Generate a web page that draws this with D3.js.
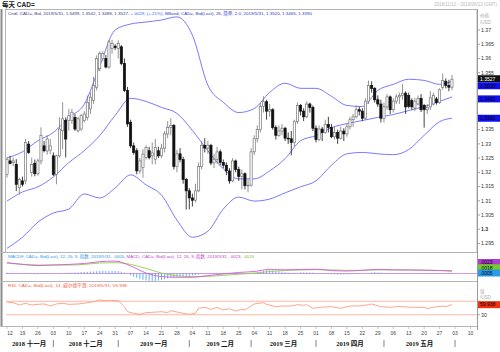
<!DOCTYPE html>
<html>
<head>
<meta charset="utf-8">
<script src="https://cdn.jsdelivr.net/npm/d3@7"></script>
<style>
  body { margin: 0; background: #fff; }
  svg { display: block; }
  text { font-family: "Liberation Sans", "Noto Sans CJK SC", sans-serif; }
</style>
</head>
<body>
<svg id="chart" width="500" height="352"></svg>
<script>
// daily candles, 2018-11-12 .. 2019-05-31 (weekdays)
var openP = [1.3193,1.3240,1.3234,1.3228,1.3146,1.3170,1.3170,1.3299,1.3200,1.3232,
  1.3195,1.3240,1.3293,1.3275,1.3278,1.3258,1.3193,1.3258,1.3346,1.3382,
  1.3382,1.3382,1.3393,1.3346,1.3352,1.3382,1.3393,1.3423,1.3452,1.3499,
  1.3564,1.3600,1.3600,1.3570,1.3635,1.3643,1.3635,1.3641,1.3582,1.3488,
  1.3376,1.3293,1.3276,1.3205,1.3217,1.3252,1.3276,1.3258,1.3246,1.3276,
  1.3258,1.3285,1.3335,1.3358,1.3365,1.3220,1.3265,1.3245,1.3175,1.3135,
  1.3110,1.3102,1.3135,1.3220,1.3295,1.3285,1.3295,1.3233,1.3246,1.3272,
  1.3235,1.3225,1.3205,1.3170,1.3240,1.3210,1.3185,1.3195,1.3153,1.3155,
  1.3272,1.3318,1.3350,1.3432,1.3448,1.3415,1.3420,1.3358,1.3330,1.3345,
  1.3355,1.3320,1.3318,1.3305,1.3378,1.3435,1.3415,1.3395,1.3440,1.3428,
  1.3355,1.3315,1.3352,1.3340,1.3368,1.3358,1.3325,1.3340,1.3320,1.3345,
  1.3335,1.3360,1.3385,1.3395,1.3420,1.3415,1.3390,1.3450,1.3505,1.3495,
  1.3455,1.3440,1.3390,1.3430,1.3465,1.3420,1.3450,1.3465,1.3470,1.3478,
  1.3470,1.3452,1.3426,1.3440,1.3460,1.3435,1.3420,1.3430,1.3440,1.3458,
  1.3445,1.3499,1.3520,1.3505,1.3499];
var highP = [1.3252,1.3258,1.3252,1.3246,1.3181,1.3185,1.3317,1.3310,1.3252,1.3245,
  1.3248,1.3358,1.3310,1.3330,1.3317,1.3270,1.3262,1.3393,1.3446,1.3393,
  1.3423,1.3423,1.3405,1.3395,1.3405,1.3415,1.3470,1.3482,1.3535,1.3611,
  1.3625,1.3625,1.3612,1.3665,1.3665,1.3650,1.3664,1.3647,1.3600,1.3500,
  1.3385,1.3305,1.3285,1.3250,1.3281,1.3295,1.3290,1.3305,1.3317,1.3290,
  1.3300,1.3345,1.3380,1.3390,1.3370,1.3278,1.3285,1.3255,1.3180,1.3145,
  1.3125,1.3160,1.3235,1.3310,1.3320,1.3310,1.3300,1.3265,1.3290,1.3280,
  1.3245,1.3235,1.3215,1.3250,1.3245,1.3220,1.3210,1.3200,1.3175,1.3285,
  1.3330,1.3365,1.3445,1.3467,1.3455,1.3440,1.3425,1.3365,1.3365,1.3370,
  1.3360,1.3340,1.3345,1.3385,1.3445,1.3440,1.3425,1.3450,1.3445,1.3435,
  1.3365,1.3365,1.3360,1.3385,1.3395,1.3370,1.3360,1.3350,1.3360,1.3355,
  1.3370,1.3395,1.3405,1.3435,1.3430,1.3425,1.3460,1.3522,1.3520,1.3500,
  1.3470,1.3455,1.3445,1.3475,1.3470,1.3460,1.3475,1.3480,1.3510,1.3485,
  1.3480,1.3460,1.3462,1.3470,1.3475,1.3440,1.3440,1.3485,1.3480,1.3465,
  1.3495,1.3548,1.3530,1.3525,1.3542];
var lowP = [1.3181,1.3228,1.3222,1.3134,1.3122,1.3150,1.3158,1.3265,1.3185,1.3186,
  1.3188,1.3228,1.3270,1.3262,1.3264,1.3187,1.3158,1.3252,1.3281,1.3252,
  1.3346,1.3370,1.3346,1.3340,1.3346,1.3375,1.3382,1.3405,1.3441,1.3488,
  1.3555,1.3590,1.3565,1.3564,1.3617,1.3630,1.3600,1.3576,1.3482,1.3360,
  1.3285,1.3262,1.3193,1.3195,1.3181,1.3245,1.3245,1.3228,1.3228,1.3250,
  1.3250,1.3270,1.3320,1.3330,1.3210,1.3200,1.3235,1.3160,1.3069,1.3070,
  1.3080,1.3095,1.3130,1.3210,1.3270,1.3265,1.3225,1.3215,1.3230,1.3225,
  1.3215,1.3190,1.3160,1.3165,1.3200,1.3170,1.3140,1.3140,1.3130,1.3150,
  1.3260,1.3305,1.3340,1.3410,1.3385,1.3395,1.3350,1.3315,1.3325,1.3330,
  1.3310,1.3300,1.3260,1.3290,1.3370,1.3400,1.3380,1.3390,1.3410,1.3345,
  1.3305,1.3310,1.3310,1.3335,1.3340,1.3320,1.3315,1.3300,1.3315,1.3310,
  1.3325,1.3350,1.3360,1.3390,1.3400,1.3380,1.3385,1.3440,1.3480,1.3445,
  1.3430,1.3375,1.3375,1.3420,1.3405,1.3410,1.3440,1.3440,1.3455,1.3405,
  1.3425,1.3420,1.3415,1.3435,1.3412,1.3357,1.3405,1.3418,1.3435,1.3438,
  1.3440,1.3490,1.3495,1.3485,1.3488];
var closeP = [1.3246,1.3231,1.3240,1.3158,1.3175,1.3158,1.3305,1.3270,1.3228,1.3195,
  1.3240,1.3329,1.3276,1.3317,1.3293,1.3193,1.3258,1.3352,1.3388,1.3317,
  1.3399,1.3411,1.3352,1.3388,1.3399,1.3405,1.3446,1.3464,1.3505,1.3600,
  1.3617,1.3617,1.3570,1.3658,1.3653,1.3638,1.3653,1.3582,1.3488,1.3370,
  1.3293,1.3270,1.3205,1.3240,1.3264,1.3287,1.3252,1.3268,1.3287,1.3258,
  1.3285,1.3335,1.3358,1.3365,1.3220,1.3265,1.3245,1.3175,1.3135,1.3110,
  1.3102,1.3135,1.3220,1.3295,1.3285,1.3295,1.3233,1.3246,1.3272,1.3235,
  1.3225,1.3205,1.3170,1.3240,1.3210,1.3185,1.3195,1.3153,1.3155,1.3272,
  1.3318,1.3350,1.3432,1.3448,1.3415,1.3420,1.3358,1.3330,1.3345,1.3355,
  1.3320,1.3318,1.3305,1.3378,1.3435,1.3415,1.3395,1.3440,1.3428,1.3355,
  1.3315,1.3352,1.3340,1.3368,1.3358,1.3325,1.3340,1.3320,1.3345,1.3335,
  1.3360,1.3385,1.3395,1.3420,1.3415,1.3390,1.3450,1.3505,1.3495,1.3455,
  1.3440,1.3390,1.3430,1.3465,1.3420,1.3450,1.3465,1.3470,1.3478,1.3430,
  1.3432,1.3430,1.3450,1.3460,1.3420,1.3420,1.3428,1.3462,1.3470,1.3445,
  1.3490,1.3523,1.3505,1.3499,1.3527];

// Bollinger band (26, 2.0)
var sampleDays = [0,5,10,15,20,25,30,35,40,45,50,55,60,65,70,75,80,85,90,95,100,105,110,115,120,125,130,135,140,144];
var bbUpper = [1.3251,1.3272,1.3311,1.3340,1.3393,1.3439,1.3573,1.3700,1.3721,1.3728,1.3735,1.3746,1.3682,1.3506,1.3446,1.3410,
  1.3424,1.3481,1.3513,1.3495,1.3495,1.3467,1.3435,1.3431,1.3488,1.3509,1.3527,1.3523,1.3509,1.3520];
var bbMiddle = [1.3099,1.3131,1.3149,1.3184,1.3234,1.3276,1.3329,1.3400,1.3460,1.3449,1.3428,1.3407,1.3347,1.3276,1.3212,1.3177,
  1.3177,1.3205,1.3248,1.3311,1.3329,1.3357,1.3371,1.3382,1.3393,1.3403,1.3417,1.3431,1.3449,1.3465];
var bbLower = [1.2933,1.2972,1.3025,1.3057,1.3071,1.3124,1.3110,1.3145,1.3191,1.3156,1.3120,1.3032,1.2972,1.2993,1.3071,1.3113,
  1.3099,1.3106,1.3128,1.3149,1.3170,1.3225,1.3265,1.3270,1.3265,1.3262,1.3280,1.3330,1.3378,1.3390];

// MACD (12, 26, 9)
var macdLine = [0.0092,0.0077,0.0067,0.0072,0.0077,0.0085,0.0100,0.0105,0.0064,0.0004,-0.0026,-0.0032,-0.0032,-0.0018,-0.0004,0.0009,
  0.0017,0.0035,0.0031,0.0034,0.0036,0.0025,0.0021,0.0027,0.0035,0.0031,0.0030,0.0028,0.0025,0.0023];
var macdSignal = [0.0087,0.0078,0.0072,0.0072,0.0072,0.0077,0.0089,0.0092,0.0077,0.0043,0.0004,-0.0019,-0.0026,-0.0024,-0.0016,-0.0006,
  0.0003,0.0017,0.0026,0.0030,0.0033,0.0030,0.0027,0.0027,0.0030,0.0030,0.0030,0.0028,0.0026,0.0018];
// histogram, in units of 0.0001
var macdHist = [5,3,2,0,-2, -2,-3,-1,-3,-4, -5,-3,-2,-2,-1, -2,0,1,3,4, 4,5,6,6,8, 8,9,10,11,13,
  14,15,14,15,15, 14,13,10,5,-2, -10,-18,-24,-30,-34, -38,-40,-40,-40,-38, -36,-32,-27,-22,-22,
  -20,-17,-15,-14,-13, -11,-9,-6,-3,-1, 2,3,4,4,4, 4,3,3,3,3, 2,1,0,-1,0,
  4,7,10,14,17, 18,17,14,12,10, 7,5,3,3,4, 6,6,6,6,5, 2,0,-2,-3,-3,
  -4,-5,-6,-6,-6, -5,-4,-3,-1,0, 0,0,3,6,7, 6,5,3,3,3, 2,2,2,2,1,
  0,0,-1,-1,-1, -1,-2,-3,-3,-2, -2,-1,2,4,5];

// RSI (14, Wilder)
var rsiDays = [0,2,4,6,8,10,12,14,16,18,20,23,25,28,30,32,33,36,38,39,41,43,45,47,50,52,53,55,57,59,61,62,64,66,68,70,72,74,76,77,79,
  80,83,84,87,89,92,94,96,97,99,101,105,108,111,114,117,118,121,124,126,128,131,135,136,138,141,142,144];
var rsiValues = [67.9,65.8,59,64,59,61,62,56,62,64,61,62,64,68.8,74,71.8,73,71.8,53.9,39,34.2,31.2,36,37.2,39,36,42,38,34.2,31.2,34.2,49,52,46,52,44,48,41,46,44,56,
  62,65.8,61,53.9,56,56,59.9,58,59.9,49,52,54,49,56,56,59.9,62,54,52,54,54,52,52,48,52,56,54,59.938];

var priceTicks = [1.37,1.365,1.36,1.355,1.35,1.345,1.34,1.335,1.33,1.325,1.32,1.315,1.31,1.305,1.3,1.295];
var hiddenTicks = [1.35, 1.345, 1.34];
var weekLabels = ["12","19","26","03","10","17","24","31","07","14","21","28","04","11","18","25",
  "04","11","18","25","01","08","15","22","29","06","13","20","27","03","10"];
var monthLabels = ["2018 十一月","2018 十二月","2019 一月","2019 二月","2019 三月","2019 四月","2019 五月"];
var monthStarts = [0,15,36,59,79,100,122,145];

var svg = d3.select("#chart");
var axisX = 477;

var x = d3.scaleLinear().domain([0, 150]).range([7, 7 + 150 * 3.09]);
var yPrice = d3.scaleLinear().domain([1.295, 1.37]).range([243.5, 30]);
var yMacd = d3.scaleLinear().domain([0, 0.01]).range([273.5, 261.7]);
var yHist = d3.scaleLinear().domain([0, 0.004]).range([273.5, 266.2]);
var yRsi = d3.scaleLinear().domain([30, 70]).range([314.7, 301.3]);

// frames
svg.append("rect").attr("x", 5.5).attr("y", 9.5).attr("width", axisX - 5.5).attr("height", 243)
  .attr("fill", "none").attr("stroke", "#b5b5b5");
svg.append("line").attr("x1", 1.5).attr("x2", 1.5).attr("y1", 9).attr("y2", 327)
  .attr("stroke", "#8c8c8c").attr("stroke-width", 2);
[252.5, 281.5, 326.5].forEach(function(v) {
  svg.append("line").attr("x1", 1).attr("x2", axisX).attr("y1", v).attr("y2", v)
    .attr("stroke", "#b5b5b5");
});
svg.append("line").attr("x1", axisX + 0.5).attr("x2", axisX + 0.5).attr("y1", 9).attr("y2", 330)
  .attr("stroke", "#9a9a9a");

svg.append("clipPath").attr("id", "clipMain").append("rect")
  .attr("x", 6).attr("y", 10).attr("width", axisX - 6).attr("height", 242);

// header
svg.append("text").attr("x", 2).attr("y", 7).attr("font-size", 6.5).attr("font-weight", "bold")
  .attr("fill", "#222").text("每天 CAD=");
svg.append("text").attr("x", 497).attr("y", 6).attr("text-anchor", "end").attr("font-size", 4.5)
  .attr("fill", "#b8b8b8").text("2018/11/12 - 2019/06/12 (GMT)");

// main legend
var leg = svg.append("text").attr("x", 8).attr("y", 15).attr("font-size", 4.4)
  .attr("textLength", 304).attr("lengthAdjust", "spacingAndGlyphs");
leg.append("tspan").attr("fill", "#3a3a8c").text("Cndl, CAD=, Bid, 2019/5/31, 1.3499, 1.3542, 1.3488, 1.3527, ");
leg.append("tspan").attr("fill", "#2f6bff").text("+.0029, (+.21%), ");
leg.append("tspan").attr("fill", "#3434d8").text("BBand, CAD=, Bid(Last), 26, 简单, 2.0, 2019/5/31, 1.3520, 1.3465, 1.3390");

// bollinger bands
var main = svg.append("g").attr("clip-path", "url(#clipMain)");
[bbUpper, bbMiddle, bbLower].forEach(function(band) {
  var line = d3.line().x(function(d, i) { return x(sampleDays[i]); }).y(function(d) { return yPrice(d); })
    .curve(d3.curveMonotoneX);
  main.append("path").attr("d", line(band)).attr("fill", "none")
    .attr("stroke", "#6a6aff").attr("stroke-width", 0.9);
});

// candles
var candles = main.selectAll("g.candle").data(closeP).enter().append("g").attr("class", "candle");
candles.append("line")
  .attr("x1", function(d, i) { return x(i); }).attr("x2", function(d, i) { return x(i); })
  .attr("y1", function(d, i) { return yPrice(highP[i]); })
  .attr("y2", function(d, i) { return yPrice(lowP[i]); })
  .attr("stroke", function(d, i) { return d >= openP[i] ? "#777" : "#111"; })
  .attr("stroke-width", 0.8);
candles.append("rect")
  .attr("x", function(d, i) { return x(i) - 1.1; })
  .attr("width", 2.2)
  .attr("y", function(d, i) { return yPrice(Math.max(d, openP[i])); })
  .attr("height", function(d, i) { return Math.max(0.8, Math.abs(yPrice(d) - yPrice(openP[i]))); })
  .attr("fill", function(d, i) { return d >= openP[i] ? "#fff" : "#111"; })
  .attr("stroke", function(d, i) { return d >= openP[i] ? "#777" : "#111"; })
  .attr("stroke-width", 0.7);

// price axis
var yAxis = svg.append("g");
priceTicks.forEach(function(t) {
  yAxis.append("line").attr("x1", axisX + 1).attr("x2", axisX + 3)
    .attr("y1", yPrice(t)).attr("y2", yPrice(t)).attr("stroke", "#666").attr("stroke-width", 0.6);
  if (hiddenTicks.indexOf(t) >= 0) return;   // covered by value boxes
  yAxis.append("text").attr("x", axisX + 4).attr("y", yPrice(t) + 1.8).attr("font-size", 5.2)
    .attr("font-weight", t === 1.3 ? "bold" : "normal")
    .attr("fill", "#333").text(d3.format("")(t));
});
yAxis.append("text").attr("x", axisX + 3).attr("y", 17).attr("font-size", 4.5).attr("fill", "#aaa").text("价格");
yAxis.append("text").attr("x", axisX + 3).attr("y", 24).attr("font-size", 4.5).attr("fill", "#aaa").text("/USD");

function valueBox(yc, color, txt, txtColor) {
  svg.append("rect").attr("x", axisX + 1).attr("y", yc - 3.5).attr("width", 22).attr("height", 7).attr("fill", color);
  svg.append("text").attr("x", axisX + 3).attr("y", yc + 1.8).attr("font-size", 5)
    .attr("fill", txtColor).text(txt);
}
valueBox(yPrice(closeP[closeP.length - 1]) - 0.5, "#111", "1.3527", "#fff");
valueBox(yPrice(bbUpper[bbUpper.length - 1]) + 4.5, "#1010ee", "1.3520", "#000");
valueBox(yPrice(bbMiddle[bbMiddle.length - 1]) + 2, "#1010ee", "1.3465", "#000");
valueBox(yPrice(bbLower[bbLower.length - 1]), "#1010ee", "1.3390", "#000");

// MACD panel
var macdG = svg.append("g");
macdG.append("line").attr("x1", 6).attr("x2", axisX).attr("y1", yMacd(0)).attr("y2", yMacd(0))
  .attr("stroke", "#c070e0").attr("stroke-width", 0.7);
macdG.selectAll("line.hist").data(macdHist).enter().append("line").attr("class", "hist")
  .attr("x1", function(d, i) { return x(i); }).attr("x2", function(d, i) { return x(i); })
  .attr("y1", yHist(0)).attr("y2", function(d) { return yHist(d / 10000); })
  .attr("stroke", "#3a9ff0").attr("stroke-width", 0.8);
var mline = d3.line().x(function(d, i) { return x(sampleDays[i]); }).y(function(d) { return yMacd(d); })
  .curve(d3.curveMonotoneX);
macdG.append("path").attr("d", mline(macdSignal)).attr("fill", "none").attr("stroke", "#8ed04a").attr("stroke-width", 0.9);
macdG.append("path").attr("d", mline(macdLine)).attr("fill", "none").attr("stroke", "#d458d8").attr("stroke-width", 0.9);

var mleg = svg.append("text").attr("x", 8).attr("y", 258).attr("font-size", 4.4)
  .attr("textLength", 246).attr("lengthAdjust", "spacingAndGlyphs");
mleg.append("tspan").attr("fill", "#2a9ae8").text("MACDF, CAD=, Bid(Last), 12, 26, 9, 指数, 2019/5/31, .0005, ");
mleg.append("tspan").attr("fill", "#c040d0").text("MACD, CAD=, Bid(Last), 12, 26, 9, 指数, 2019/5/31, .0023, ");
mleg.append("tspan").attr("fill", "#80c040").text(".0018");

valueBox(262.5, "#b43ad8", ".0023", "#000");
valueBox(267.8, "#72cc2c", ".0018", "#000");
valueBox(273, "#2a9ae8", ".0005", "#000");

// RSI panel
var rsiG = svg.append("g");
[70, 30].forEach(function(lv) {
  rsiG.append("line").attr("x1", 6).attr("x2", axisX).attr("y1", yRsi(lv)).attr("y2", yRsi(lv))
    .attr("stroke", "#ffb6a3").attr("stroke-width", 1.1);
  rsiG.append("line").attr("x1", axisX + 1).attr("x2", axisX + 3).attr("y1", yRsi(lv)).attr("y2", yRsi(lv))
    .attr("stroke", "#666").attr("stroke-width", 0.6);
  if (lv === 30) {
    rsiG.append("text").attr("x", axisX + 4).attr("y", yRsi(lv) + 1.8).attr("font-size", 5.2)
      .attr("fill", "#333").text(lv);
  }
});
var rline = d3.line().x(function(d, i) { return x(rsiDays[i]); }).y(function(d) { return yRsi(d); });
rsiG.append("path").attr("d", rline(rsiValues)).attr("fill", "none").attr("stroke", "#ff9a80").attr("stroke-width", 0.9);
svg.append("text").attr("x", 8).attr("y", 287).attr("font-size", 4.4).attr("fill", "#f06040")
  .attr("textLength", 119).attr("lengthAdjust", "spacingAndGlyphs")
  .text("RSI, CAD=, Bid(Last), 14, 威尔德平滑, 2019/5/31, 59.938");
svg.append("text").attr("x", axisX + 3).attr("y", 293).attr("font-size", 4.5).attr("fill", "#aaa").text("值");
svg.append("text").attr("x", axisX + 3).attr("y", 299).attr("font-size", 4.5).attr("fill", "#aaa").text("/USD");
valueBox(yRsi(rsiValues[rsiValues.length - 1]), "#f03010", "59.938", "#000");

// date axis
var dateAxis = svg.append("g");
weekLabels.forEach(function(lbl, i) {
  var px = Math.max(x(i * 5), 10);
  dateAxis.append("line").attr("x1", x(i * 5)).attr("x2", x(i * 5)).attr("y1", 327).attr("y2", 329)
    .attr("stroke", "#888").attr("stroke-width", 0.5);
  dateAxis.append("text").attr("x", px).attr("y", 335).attr("text-anchor", "middle")
    .attr("font-size", 5).attr("fill", "#444").text(lbl);
});
monthLabels.forEach(function(lbl, i) {
  var a = i === 0 ? 5 : x(monthStarts[i]);
  var b = x(monthStarts[i + 1]);
  dateAxis.append("text").attr("x", (a + b) / 2).attr("y", 346).attr("text-anchor", "middle")
    .attr("font-size", 6.5).attr("font-weight", "bold").attr("fill", "#111")
    .style("font-family", "'Liberation Serif', 'Noto Sans CJK SC', serif").text(lbl);
  dateAxis.append("line").attr("x1", b).attr("x2", b).attr("y1", 340).attr("y2", 347)
    .attr("stroke", "#333").attr("stroke-width", 0.6);
});
</script>
</body>
</html>
